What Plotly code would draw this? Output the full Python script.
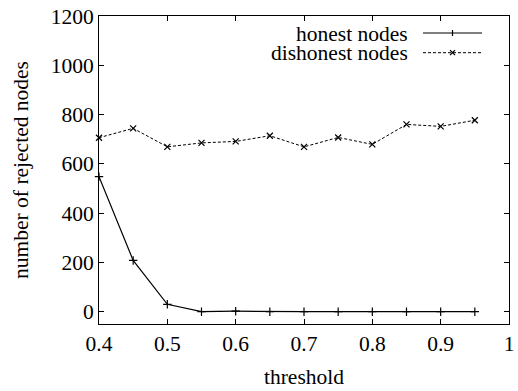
import plotly.graph_objects as go

threshold = [0.4, 0.45, 0.5, 0.55, 0.6, 0.65, 0.7, 0.75, 0.8, 0.85, 0.9, 0.95]
honest = [548, 208, 30, 0, 2, 0, 0, 0, 0, 0, 0, 0]
dishonest = [706, 744, 669, 685, 691, 714, 669, 707, 679, 760, 752, 777]

x_ticks = [0.4, 0.5, 0.6, 0.7, 0.8, 0.9, 1.0]
x_ticktext = ["0.4", "0.5", "0.6", "0.7", "0.8", "0.9", "1"]
y_ticks = [0, 200, 400, 600, 800, 1000, 1200]

FONT = "Liberation Serif, Times New Roman, serif"
FS = 21.5

fig = go.Figure()
fig.add_trace(go.Scatter(
    x=threshold, y=honest, mode="lines+markers", name="honest nodes",
    line=dict(color="black", width=1.2),
    marker=dict(symbol="cross-thin", size=6, line=dict(color="black", width=1.2)),
    showlegend=False, cliponaxis=False))
fig.add_trace(go.Scatter(
    x=threshold, y=dishonest, mode="lines+markers", name="dishonest nodes",
    line=dict(color="black", width=1, dash="3px,2px"),
    marker=dict(symbol="x-thin", size=6, line=dict(color="black", width=1.2)),
    showlegend=False, cliponaxis=False))

axis_common = dict(
    showline=True, linecolor="black", linewidth=1, mirror="allticks",
    ticks="inside", ticklen=5, tickcolor="black", tickwidth=1,
    showgrid=False, zeroline=False, automargin=False,
    tickfont=dict(family=FONT, size=FS, color="black"),
)

fig.update_xaxes(range=[0.4, 1.0], tickvals=x_ticks, ticktext=x_ticktext,
                 title=dict(text="threshold", font=dict(family=FONT, size=FS, color="black"), standoff=14),
                 **axis_common)
fig.update_yaxes(range=[-50, 1200], tickvals=y_ticks,
                 title=dict(text="number of rejected nodes", font=dict(family=FONT, size=FS, color="black"), standoff=16),
                 **axis_common)

# legend drawn gnuplot-style: text right-aligned, sample to its right
legend_items = [("honest nodes", "solid", "cross-thin"), ("dishonest nodes", "3px,2px", "x-thin")]
pw_l, pw_r, ph_t, ph_b = 99, 9, 16, 67
W, H = 518, 391
def px(xp):
    return (xp - pw_l) / (W - pw_l - pw_r)
def py(yp):
    return 1 - (yp - ph_t) / (H - ph_t - ph_b)

for i, (label, dash, sym) in enumerate(legend_items):
    yc = 33 + i * 19.7
    fig.add_annotation(x=px(409), y=py(yc), xref="paper", yref="paper",
                       text=label, showarrow=False, xanchor="right", yanchor="middle",
                       height=19, borderpad=0,
                       font=dict(family=FONT, size=FS, color="black"))
    fig.add_shape(type="line", xref="paper", yref="paper",
                  x0=px(423), x1=px(482), y0=py(yc), y1=py(yc),
                  line=dict(color="black", width=1.2 if dash == "solid" else 1, dash=dash))
    if sym == "cross-thin":
        fig.add_shape(type="line", xref="paper", yref="paper",
                      x0=px(452.5), x1=px(452.5), y0=py(yc - 3), y1=py(yc + 3),
                      line=dict(color="black", width=1.2))
    else:
        fig.add_shape(type="line", xref="paper", yref="paper",
                      x0=px(450), x1=px(455), y0=py(yc - 2.5), y1=py(yc + 2.5),
                      line=dict(color="black", width=1.2))
        fig.add_shape(type="line", xref="paper", yref="paper",
                      x0=px(450), x1=px(455), y0=py(yc + 2.5), y1=py(yc - 2.5),
                      line=dict(color="black", width=1.2))

fig.update_layout(
    width=W, height=H,
    margin=dict(l=pw_l, r=pw_r, t=ph_t, b=ph_b),
    plot_bgcolor="white", paper_bgcolor="white",
    font=dict(family=FONT, size=FS, color="black"),
    showlegend=False,
)

fig.write_html("out.html", config={"displayModeBar": False},
               post_script="document.body.style.margin='0';document.body.style.overflow='hidden';")
